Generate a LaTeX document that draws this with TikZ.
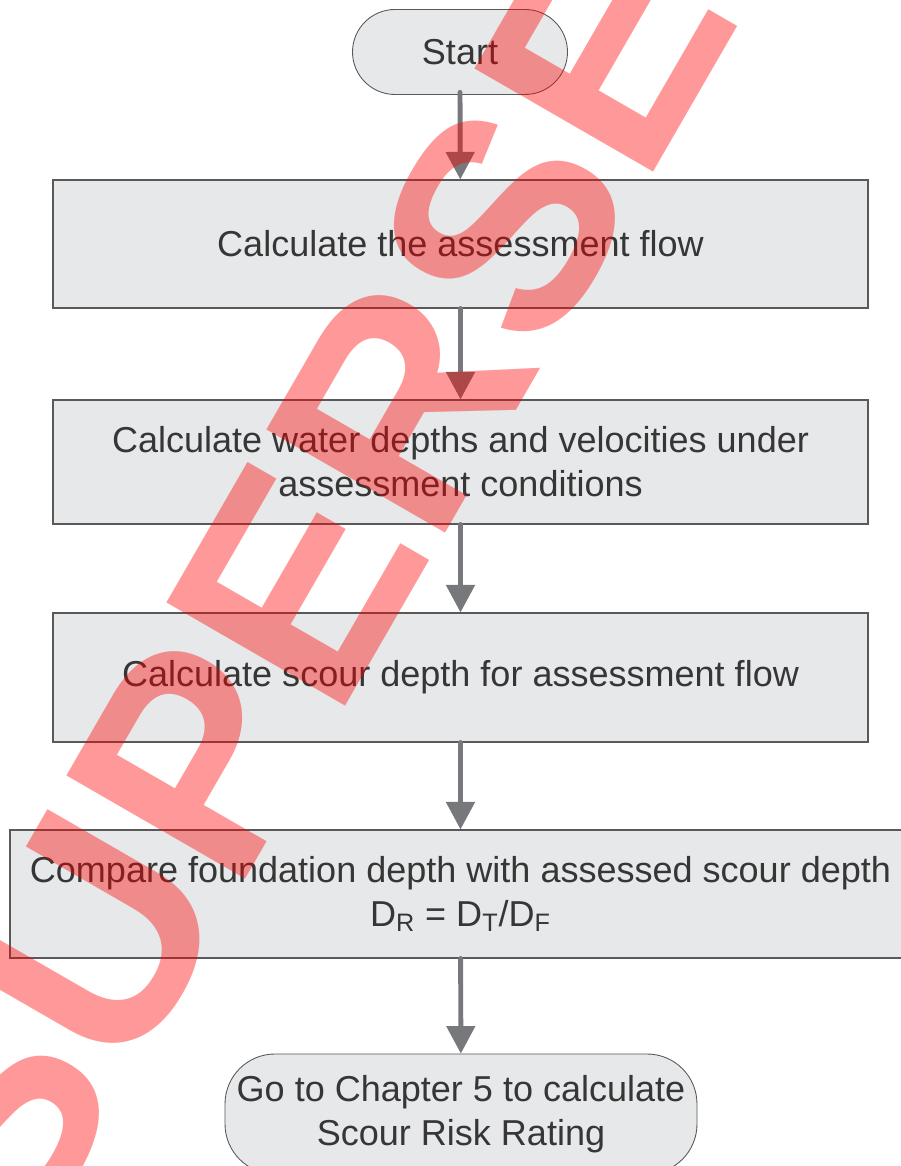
\documentclass[tikz,border=0pt]{standalone}
\usepackage{fontspec}
\setmainfont{Liberation Sans}
\usepackage{tikz}
\usetikzlibrary{arrows.meta, positioning, calc}
\definecolor{boxFill}{HTML}{E7E8EA}
\definecolor{boxLine}{HTML}{595959}
\definecolor{arrowGrey}{HTML}{77787B}
\definecolor{textGrey}{HTML}{363636}
\tikzstyle{termNode}=[draw=boxLine, fill=boxFill, rounded corners=0.85cm, line width=0.5pt, text=textGrey, align=center, inner sep=0pt]
\tikzstyle{procNode}=[draw=boxLine, fill=boxFill, line width=0.6pt, text=textGrey, align=center, inner sep=0pt, minimum width=16.3cm]
\tikzstyle{flowArrow}=[line width=2.8pt, draw=arrowGrey, line cap=round, -{Triangle[length=5.5mm,width=5.6mm]}]
\tikzstyle{stampText}=[text=red, text opacity=0.4, inner sep=0pt, font=\bfseries\fontsize{170.7}{170.7}\selectfont]
\newcommand{\flowFont}{\fontsize{20.5}{25}\selectfont}

\begin{document}
\begin{tikzpicture}[font=\flowFont]
    \useasboundingbox (0,0) rectangle (18.02,23.32);

    % Flow Nodes
    \node[termNode, minimum width=4.3cm, minimum height=1.7cm] (start) at (9.2, 22.28) {Start};
    \node[procNode, minimum height=2.56cm] (flow) at (9.21, 18.44) {Calculate the assessment flow};
    \node[procNode, minimum height=2.48cm] (depths) at (9.21, 14.08) {Calculate water depths and velocities under\\assessment conditions};
    \node[procNode, minimum height=2.58cm] (scour) at (9.21, 9.77) {Calculate scour depth for assessment flow};
    \node[procNode, minimum width=18.02cm, minimum height=2.56cm] (compare) at (9.21, 5.44) {Compare foundation depth with assessed scour depth\\D\textsubscript{R} = D\textsubscript{T}/D\textsubscript{F}};
    \node[termNode, rounded corners=1cm, minimum width=9.44cm, minimum height=2.4cm] (chapter) at (9.22, 1.04) {Go to Chapter 5 to calculate\\Scour Risk Rating};

    % Flow Arrows
    \draw[flowArrow] ($(start.south)+(0,0.05)$) -- (flow);
    \draw[flowArrow] (flow) -- (depths);
    \draw[flowArrow] (depths) -- (scour);
    \draw[flowArrow] (scour) -- (compare);
    \draw[flowArrow] (compare) -- (chapter);

    % Stamp
    \node[stampText, anchor=base west, rotate=60] (stamp) at (0.54, -1.84) {SUPERSEDED};

\end{tikzpicture}
\end{document}
